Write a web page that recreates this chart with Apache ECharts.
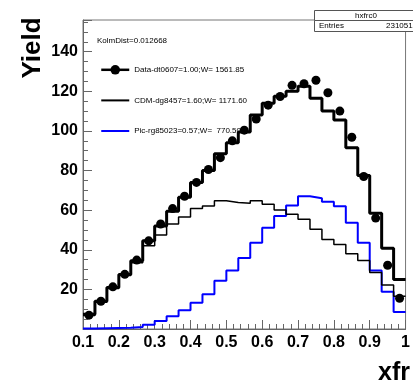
<!DOCTYPE html>
<html>
<head>
<meta charset="utf-8">
<script src="https://cdn.jsdelivr.net/npm/echarts@6/dist/echarts.min.js"></script>
<style>
  html, body { margin: 0; padding: 0; background: #fff; }
  #chart { width: 413px; height: 383px; }
</style>
</head>
<body>
<div id="chart"></div>
<script>
// bin edges of the xfr histogram (27 bins, 0.1 .. 1.0)
const xEdges = [0.1, 0.13333, 0.16667, 0.2, 0.23333, 0.26667, 0.3, 0.33333, 0.36667, 0.4,
  0.43333, 0.46667, 0.5, 0.53333, 0.56667, 0.6, 0.63333, 0.66667, 0.7, 0.73333,
  0.76667, 0.8, 0.83333, 0.86667, 0.9, 0.93333, 0.96667, 1.0]

// data points (black dots)
const dataVals = [7, 14, 21.3, 27.6, 34.8, 44.5, 53, 60.8, 67, 74, 80.5, 86.5, 95, 100.4,
  106, 113, 117.4, 123, 123.8, 125.6, 119.3, 110, 96.8, 77, 56, 32.2, 15.5]
// total fit (thick black histogram)
const fitVals = [7.5, 14, 21, 27.5, 34.5, 44.5, 52, 59.5, 66.5, 74, 80, 88.5, 94, 99.5,
  108, 114, 117.5, 120, 122.5, 116.5, 110, 105.5, 91.5, 77.5, 58.5, 40.8, 25]
// CDM component (thin black histogram)
const cdmVals = [6.8, 13.5, 20.5, 27, 33.5, 42, 47.5, 53, 56.5, 60.8, 62.1, 64.7, 63.9, 63.5,
  64.7, 63, 60.1, 57.9, 55.4, 50.3, 45.2, 42.6, 38, 34.6, 28.5, 22.2, 16.5]
// Pic component (blue histogram)
const picVals = [0.3, 0.4, 0.5, 0.6, 1.0, 2.2, 4.0, 6.4, 9.5, 13.2, 17.6, 24.4, 29.5, 35.8,
  43.5, 51.1, 57, 62.3, 67, 66, 64.2, 62, 53.7, 43.5, 29.5, 18.8, 8.6]

const xTicks = [0.1, 0.2, 0.3, 0.4, 0.5, 0.6, 0.7, 0.8, 0.9, 1]
const yTicks = [20, 40, 60, 80, 100, 120, 140]

const legendNames = [
  'Data-dt0607=1.00;W= 1561.85',
  'CDM-dg8457=1.60;W= 1171.60',
  'Pic-rg85023=0.57;W=  770.50'
]

// histogram as step line, points on low edges + closing point
const histo = (vals) => {
  const pts = vals.map((v, i) => [xEdges[i], v])
  pts.push([xEdges[vals.length], vals[vals.length - 1]])
  return pts
}
const centers = dataVals.map((v, i) => [(xEdges[i] + xEdges[i + 1]) / 2, v])

const font = 'Liberation Sans, Arial, sans-serif'
const myChart = echarts.init(document.getElementById('chart'))

const option = {
  animation: false,
  grid: {
    left: 83,
    right: 3,
    top: 20,
    bottom: 54,
    show: true,
    borderColor: '#777',
    borderWidth: 1
  },
  legend: {
    orient: 'vertical',
    left: 100,
    top: 65,
    padding: 0,
    itemWidth: 28,
    itemHeight: 12,
    itemGap: 21,
    textStyle: { fontSize: 8, fontFamily: font, color: '#000' },
    data: [
      { name: legendNames[0], lineStyle: { opacity: 1, width: 2.5, color: '#000' } },
      { name: legendNames[1], itemStyle: { opacity: 0 }, lineStyle: { width: 2 } },
      { name: legendNames[2], itemStyle: { opacity: 0 }, lineStyle: { width: 2 } }
    ]
  },
  xAxis: {
    type: 'value',
    min: 0.1,
    max: 1,
    interval: 0.1,
    axisLine: { onZero: false, lineStyle: { color: '#666' } },
    axisTick: { inside: true, length: 9, lineStyle: { color: '#666' } },
    minorTick: { show: true, splitNumber: 5, length: 5, lineStyle: { color: '#666' } },
    splitLine: { show: false },
    axisLabel: {
      margin: 6,
      fontSize: 16,
      fontWeight: 'bold',
      fontFamily: font,
      color: '#000',
      formatter: (v) => {
        const t = xTicks.find((k) => Math.abs(k - v) < 1e-6)
        return t === undefined ? '' : String(t)
      }
    }
  },
  yAxis: {
    type: 'value',
    min: 0,
    max: 156,
    interval: 20,
    axisLine: { show: true, lineStyle: { color: '#666' } },
    axisTick: { inside: true, length: 9, lineStyle: { color: '#666' } },
    minorTick: { show: true, splitNumber: 4, length: 5, lineStyle: { color: '#666' } },
    splitLine: { show: false },
    axisLabel: {
      margin: 5,
      fontSize: 16,
      fontWeight: 'bold',
      fontFamily: font,
      color: '#000',
      formatter: (v) => (yTicks.includes(v) ? String(v) : '')
    }
  },
  series: [
    {
      name: legendNames[2],
      type: 'line',
      step: 'end',
      symbol: 'none',
      data: histo(picVals),
      lineStyle: { color: '#0000ff', width: 2 },
      itemStyle: { color: '#0000ff' },
      z: 2
    },
    {
      name: legendNames[1],
      type: 'line',
      step: 'end',
      symbol: 'none',
      data: histo(cdmVals),
      lineStyle: { color: '#000', width: 1.5 },
      itemStyle: { color: '#000' },
      z: 3
    },
    {
      name: 'fit',
      type: 'line',
      step: 'end',
      symbol: 'none',
      data: histo(fitVals),
      lineStyle: { color: '#000', width: 3 },
      z: 4
    },
    {
      name: legendNames[0],
      type: 'line',
      data: centers,
      symbol: 'circle',
      symbolSize: 9,
      showSymbol: true,
      itemStyle: { color: '#000' },
      lineStyle: { opacity: 0, width: 0 },
      z: 5
    }
  ],
  graphic: [
    {
      type: 'text',
      left: 97,
      top: 37,
      style: { text: 'KolmDist=0.012668', fontSize: 8, fontFamily: font, fill: '#000' }
    },
    {
      type: 'text',
      x: 33,
      y: 48,
      rotation: Math.PI / 2,
      style: {
        text: 'Yield',
        fontSize: 26,
        fontWeight: 'bold',
        fontFamily: font,
        fill: '#000',
        align: 'center',
        verticalAlign: 'middle'
      }
    },
    {
      type: 'text',
      x: 410,
      y: 373,
      style: {
        text: 'xfr',
        fontSize: 25,
        fontWeight: 'bold',
        fontFamily: font,
        fill: '#000',
        align: 'right',
        verticalAlign: 'middle'
      }
    },
    {
      type: 'rect',
      shape: { x: 314.5, y: 10.5, width: 100, height: 10 },
      style: { fill: '#fff', stroke: '#555', lineWidth: 1 },
      z: 10
    },
    {
      type: 'rect',
      shape: { x: 314.5, y: 20.5, width: 100, height: 11 },
      style: { fill: '#fff', stroke: '#555', lineWidth: 1 },
      z: 10
    },
    {
      type: 'text',
      x: 366,
      y: 15.5,
      z: 11,
      style: { text: 'hxfrc0', fontSize: 8, fontFamily: font, fill: '#000', align: 'center', verticalAlign: 'middle' }
    },
    {
      type: 'text',
      x: 319,
      y: 26,
      z: 11,
      style: { text: 'Entries', fontSize: 8, fontFamily: font, fill: '#000', verticalAlign: 'middle' }
    },
    {
      type: 'text',
      x: 386,
      y: 26,
      z: 11,
      style: { text: '231051', fontSize: 8, fontFamily: font, fill: '#000', verticalAlign: 'middle' }
    }
  ]
}

myChart.setOption(option)
</script>
</body>
</html>
